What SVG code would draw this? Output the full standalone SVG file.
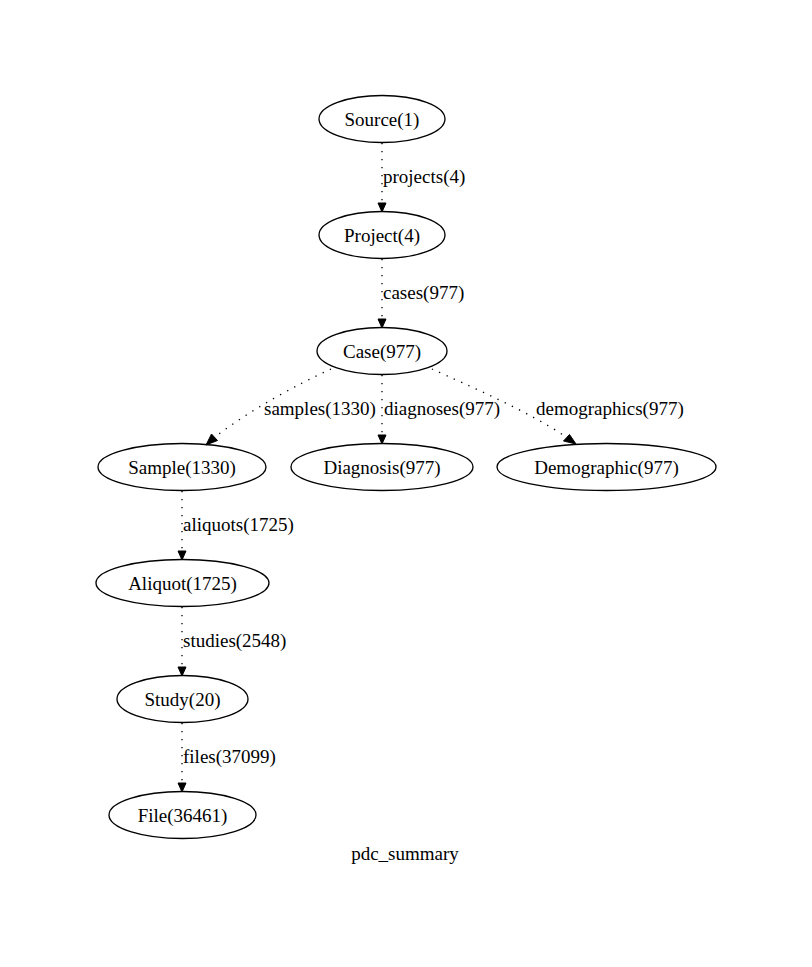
<svg xmlns="http://www.w3.org/2000/svg" width="812" height="967" viewBox="0 0 812 967">
<style>
  text { font-family: "Liberation Serif", "Times New Roman", serif; font-size: 19px; fill: #000; }
  .node ellipse { fill: none; stroke: #000; stroke-width: 1.33; }
  .node text { text-anchor: middle; }
  .edge path { fill: none; stroke: #000; stroke-width: 1.33; stroke-dasharray: 1.33,6.67; }
  .edge polygon { fill: #000; stroke: #000; stroke-width: 1; }
</style>
<rect width="812" height="967" fill="#fff"/>
<g id="edges">
  <g class="edge" id="e_source_project">
    <path d="M382,143 L382,203"/>
    <polygon points="378,203 386,203 382,212"/>
    <text x="383" y="183">projects(4)</text>
  </g>
  <g class="edge" id="e_project_case">
    <path d="M382,259 L382,319"/>
    <polygon points="378,319 386,319 382,328"/>
    <text x="383" y="299">cases(977)</text>
  </g>
  <g class="edge" id="e_case_sample">
    <path d="M331,369 C296,385 250,410 215,437"/>
    <polygon points="211.5,434 217.5,440.5 206,445"/>
    <text x="264" y="415">samples(1330)</text>
  </g>
  <g class="edge" id="e_case_diagnosis">
    <path d="M382,375 L382,435"/>
    <polygon points="378,435 386,435 382,444"/>
    <text x="384" y="415">diagnoses(977)</text>
  </g>
  <g class="edge" id="e_case_demographic">
    <path d="M432,369 C467,385 530,412 566,437"/>
    <polygon points="563.5,441 569.5,434.5 576,444"/>
    <text x="536" y="415">demographics(977)</text>
  </g>
  <g class="edge" id="e_sample_aliquot">
    <path d="M182,491 L182,551"/>
    <polygon points="178,551 186,551 182,560"/>
    <text x="183" y="531">aliquots(1725)</text>
  </g>
  <g class="edge" id="e_aliquot_study">
    <path d="M182,607 L182,667"/>
    <polygon points="178,667 186,667 182,676"/>
    <text x="183" y="647">studies(2548)</text>
  </g>
  <g class="edge" id="e_study_file">
    <path d="M182,723 L182,783"/>
    <polygon points="178,783 186,783 182,792"/>
    <text x="183" y="763">files(37099)</text>
  </g>
</g>
<g class="node" id="source"><ellipse cx="382" cy="119" rx="63" ry="23.5"/><text x="382" y="125.5">Source(1)</text></g>
<g class="node" id="project"><ellipse cx="382" cy="235" rx="63" ry="23.5"/><text x="382" y="241.5">Project(4)</text></g>
<g class="node" id="case"><ellipse cx="382" cy="351" rx="65" ry="23.5"/><text x="382" y="357.5">Case(977)</text></g>
<g class="node" id="sample"><ellipse cx="182" cy="467" rx="84" ry="23.5"/><text x="182" y="473.5">Sample(1330)</text></g>
<g class="node" id="diagnosis"><ellipse cx="382" cy="467" rx="91" ry="23.5"/><text x="382" y="473.5">Diagnosis(977)</text></g>
<g class="node" id="demographic"><ellipse cx="606.5" cy="467" rx="109.5" ry="23.5"/><text x="606.5" y="473.5">Demographic(977)</text></g>
<g class="node" id="aliquot"><ellipse cx="182.5" cy="583" rx="86.5" ry="23.5"/><text x="182.5" y="589.5">Aliquot(1725)</text></g>
<g class="node" id="study"><ellipse cx="182.5" cy="699" rx="65.5" ry="23.5"/><text x="182.5" y="705.5">Study(20)</text></g>
<g class="node" id="file"><ellipse cx="182.5" cy="815" rx="73.5" ry="23.5"/><text x="182.5" y="821.5">File(36461)</text></g>
<text x="405" y="860" text-anchor="middle">pdc_summary</text>
</svg>
